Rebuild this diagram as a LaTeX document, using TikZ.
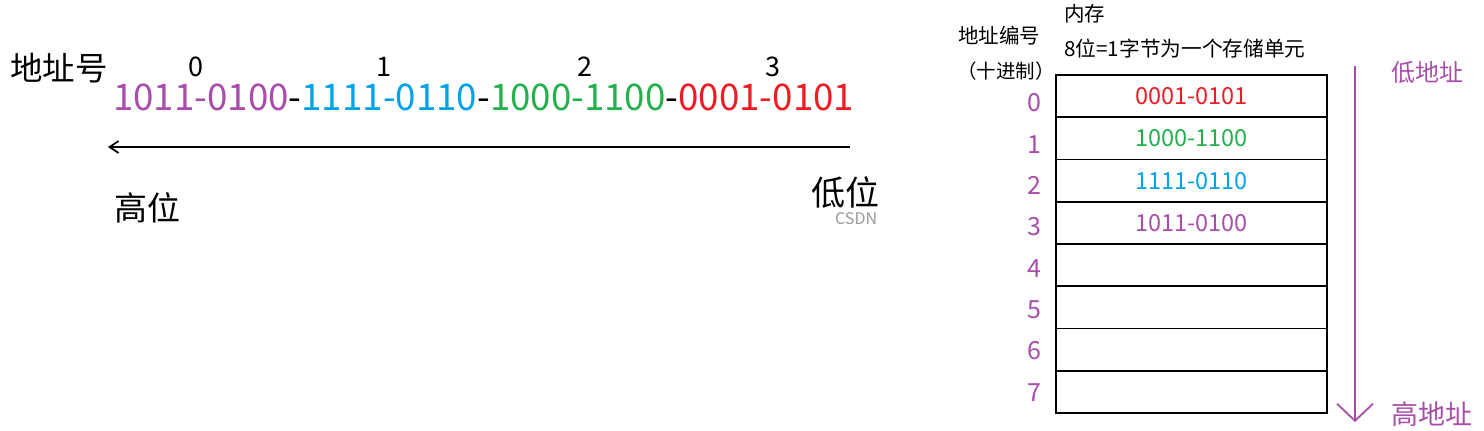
\documentclass[tikz,border=0pt]{standalone}
\usepackage{fontspec}
\setmainfont{Noto Sans CJK SC}
\usetikzlibrary{arrows.meta}
\definecolor{bitpurple}{RGB}{168,78,170}
\definecolor{bitblue}{RGB}{0,162,232}
\definecolor{bitgreen}{RGB}{34,177,76}
\definecolor{bitred}{RGB}{237,28,36}
\tikzstyle{cell}=[draw=black, line width=1.8pt, minimum width=271pt, minimum height=42.25pt, inner sep=0pt, outer sep=0pt]
\newcommand{\fsz}[1]{\fontsize{#1}{#1}\selectfont}

\begin{document}
\begin{tikzpicture}[x=1pt, y=-1pt,
                    lbl/.style={inner sep=0pt, font=\fsz{25}},
                    idx/.style={inner sep=0pt, text=bitpurple, font=\fsz{25}}]
  \useasboundingbox (0,0) rectangle (1484,431);
  % left: one word, bytes from high to low
  \node[lbl, font=\fsz{32.5}, anchor=west] (addrno) at (10,68) {地址号};
  \foreach \x [count = \i from 0] in {196,384,585,773}{
    \node[lbl, font=\fsz{27}, anchor=base] (byteidx\i) at (\x,76) {\i};
  }
  \node[inner sep=0pt, anchor=base west, font=\fsz{36.7}] (word) at (113,110)
    {\textcolor{bitpurple}{1011-0100}-\textcolor{bitblue}{1111-0110}-\textcolor{bitgreen}{1000-1100}-\textcolor{bitred}{0001-0101}};
  \coordinate (arrlow) at (850,147);
  \coordinate (arrhigh) at (108,147);
  \draw[line width=1.8pt, -{Straight Barb[length=9pt, width=12pt]}] (arrlow) -- (arrhigh);
  \node[lbl, font=\fsz{33}, anchor=west] (highbit) at (114,208) {高位};
  \node[lbl, font=\fsz{34}, anchor=west] (lowbit) at (811,193) {低位};
  \node[lbl, font=\fsz{16}, text=black!40, anchor=west] (mark) at (835,219) {CSDN};
  % right: memory cells
  \node[lbl, font=\fsz{20.5}, anchor=west] (mem) at (1064,14) {内存};
  \node[lbl, font=\fsz{20.7}, anchor=west] (unit) at (1064,49) {8位=1字节为一个存储单元};
  \node[lbl, font=\fsz{20.5}] (addrhead) at (999,36) {地址编号};
  \node[lbl, font=\fsz{19.5}] (addrdec) at (1006,71) {（十进制）};
  \foreach \val/\col [count = \i from 0] in {0001-0101/bitred, 1000-1100/bitgreen,
      1111-0110/bitblue, 1011-0100/bitpurple, /black, /black, /black, /black}{
    \node[cell, text=\col, font=\fsz{23.5}] (cell\i) at (1191.5,{96.125+42.25*\i}) {\val};
    \node[idx] (addr\i) at (1034,{103+41.3*\i}) {\i};
  }
  \coordinate (dirtop) at (1355,66);
  \coordinate (dirbot) at (1355,422);
  \draw[bitpurple, line width=1.8pt, -{Straight Barb[length=17pt, width=36pt]}] (dirtop) -- (dirbot);
  \node[lbl, font=\fsz{24}, text=bitpurple, anchor=west] (lowaddr) at (1391,72) {低地址};
  \node[lbl, font=\fsz{27}, text=bitpurple, anchor=west] (highaddr) at (1391,414) {高地址};
\end{tikzpicture}
\end{document}
